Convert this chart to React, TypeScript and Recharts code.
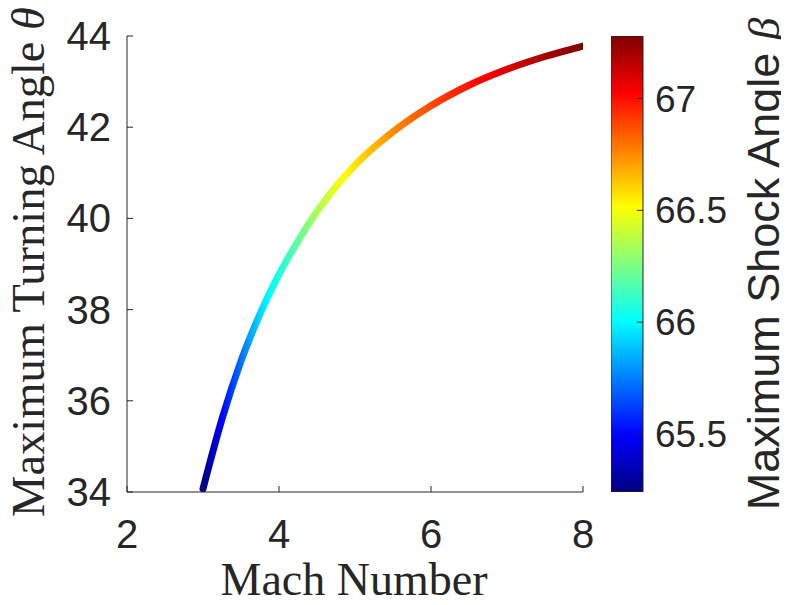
import React from 'react';
import { LineChart, Line, XAxis, YAxis, BarChart, Bar, Label } from 'recharts';

// Mach number samples along the curve
const machNumbers = [3.0, 3.25, 3.5, 3.75, 4.0, 4.25, 4.5, 4.75, 5.0, 5.5, 6.0, 6.5, 7.0, 7.5, 8.0];
// maximum turning (deflection) angle, degrees
const maxTurningAngle = [34.07, 35.6, 36.87, 37.9, 38.77, 39.5, 40.15, 40.7, 41.17, 41.9, 42.47, 42.92, 43.27, 43.55, 43.78];
// shock angle at maximum deflection, degrees (colour of the curve)
const maxShockAngle = [65.24, 65.5, 65.72, 65.93, 66.07, 66.2, 66.35, 66.47, 66.57, 66.75, 66.88, 66.99, 67.1, 67.2, 67.28];

const xTicks = [2, 4, 6, 8];
const yTicks = [34, 36, 38, 40, 42, 44];
const colorbarTicks = [65.5, 66, 66.5, 67];
const colorbarLimits = [65.24, 67.28];

const TEXT = '#262626';
const SANS = '"Liberation Sans", Arial, Helvetica, sans-serif';
const SERIF = '"Liberation Serif", "Times New Roman", serif';

const clamp = (v: number) => Math.max(0, Math.min(1, v));
const jet = (f: number) => {
  const r = clamp(1.5 - Math.abs(4 * f - 3));
  const g = clamp(1.5 - Math.abs(4 * f - 2));
  const b = clamp(1.5 - Math.abs(4 * f - 1));
  const h = (v: number) => Math.round(v * 255).toString(16).padStart(2, '0');
  return `#${h(r)}${h(g)}${h(b)}`;
};

const curveData = machNumbers.map((m, i) => ({ mach: m, theta: maxTurningAngle[i], beta: maxShockAngle[i] }));
const colorbarData = [{ name: 'beta', range: colorbarLimits }];

// gradient stops along the curve (horizontal, by Mach number)
const mMin = machNumbers[0];
const mMax = machNumbers[machNumbers.length - 1];
const betaAt = (m: number) => {
  for (let i = 0; i < machNumbers.length - 1; i++) {
    if (m <= machNumbers[i + 1]) {
      const t = (m - machNumbers[i]) / (machNumbers[i + 1] - machNumbers[i]);
      return maxShockAngle[i] + t * (maxShockAngle[i + 1] - maxShockAngle[i]);
    }
  }
  return maxShockAngle[maxShockAngle.length - 1];
};
const lineStops: { offset: number; color: string }[] = [];
for (let k = 0; k <= 100; k++) {
  const m = mMin + ((mMax - mMin) * k) / 100;
  const f = (betaAt(m) - colorbarLimits[0]) / (colorbarLimits[1] - colorbarLimits[0]);
  lineStops.push({ offset: k / 100, color: jet(f) });
}
const jetStops = [0, 0.125, 0.375, 0.625, 0.875, 1];

const YTick = (props: any) => {
  const { x, y, payload } = props;
  return (
    <g>
      <line x1={x} y1={y} x2={x + 6} y2={y} stroke={TEXT} strokeWidth={1} />
      <text x={x - 16} y={y + 14} textAnchor="end" fontSize={40} fontFamily={SANS} fill={TEXT}>
        {payload.value}
      </text>
    </g>
  );
};

const XTick = (props: any) => {
  const { x, y, payload } = props;
  return (
    <g>
      <line x1={x} y1={y} x2={x} y2={y - 6} stroke={TEXT} strokeWidth={1} />
      <text x={x} y={y + 56} textAnchor="middle" fontSize={40} fontFamily={SANS} fill={TEXT}>
        {payload.value}
      </text>
    </g>
  );
};

const CbTick = (props: any) => {
  const { x, y, payload } = props;
  return (
    <g>
      <line x1={x - 6} y1={y} x2={x} y2={y} stroke={TEXT} strokeWidth={1} />
      <text x={x + 12} y={y + 13} textAnchor="start" fontSize={37} fontFamily={SANS} fill={TEXT}>
        {payload.value}
      </text>
    </g>
  );
};

export default function App() {
  return (
    <div style={{ position: 'relative', left: -8, top: -8, width: 789, height: 605 }}>
      <div style={{ position: 'absolute', left: 0, top: 0 }}>
        <LineChart width={789} height={605} data={curveData} margin={{ top: 36, right: 206, bottom: 0, left: 0 }}>
          <defs>
            <linearGradient id="lineGrad" x1="0" y1="0" x2="1" y2="0">
              {lineStops.map((s, i) => (
                <stop key={i} offset={s.offset} stopColor={s.color} />
              ))}
            </linearGradient>
          </defs>
          <XAxis
            dataKey="mach"
            type="number"
            domain={[2, 8]}
            ticks={xTicks}
            interval={0}
            height={113}
            tickSize={0}
            tickMargin={0}
            tickLine={false}
            axisLine={{ stroke: TEXT, strokeWidth: 1 }}
            tick={<XTick />}
            allowDataOverflow
          >
            <Label
              content={() => (
                <text x={354} y={595} textAnchor="middle" fontSize={46} fontFamily={SERIF} fill={TEXT}>
                  Mach Number
                </text>
              )}
            />
          </XAxis>
          <YAxis
            type="number"
            domain={[34, 44]}
            ticks={yTicks}
            interval={0}
            width={127}
            tickSize={0}
            tickMargin={0}
            tickLine={false}
            axisLine={{ stroke: TEXT, strokeWidth: 1 }}
            tick={<YTick />}
            allowDataOverflow
          >
            <Label
              content={() => (
                <text
                  transform="translate(44,262) rotate(-90)"
                  x={0}
                  y={0}
                  textAnchor="middle"
                  fontSize={46.5}
                  fontFamily={SERIF}
                  fill={TEXT}
                >
                  Maximum Turning Angle <tspan fontStyle="italic">θ</tspan>
                </text>
              )}
            />
          </YAxis>
          <Line
            type="monotone"
            dataKey="theta"
            stroke="url(#lineGrad)"
            strokeWidth={7}
            strokeLinecap="round"
            dot={false}
            activeDot={false}
            isAnimationActive={false}
          />
        </LineChart>
      </div>
      <div style={{ position: 'absolute', left: 611, top: 0 }}>
        <BarChart
          width={178}
          height={605}
          data={colorbarData}
          margin={{ top: 36, right: 0, bottom: 113, left: 0 }}
          barCategoryGap={0}
        >
          <defs>
            <linearGradient id="jetGrad" x1="0" y1="1" x2="0" y2="0">
              {jetStops.map((f, i) => (
                <stop key={i} offset={f} stopColor={jet(f)} />
              ))}
            </linearGradient>
          </defs>
          <XAxis dataKey="name" hide />
          <YAxis
            orientation="right"
            type="number"
            domain={colorbarLimits}
            ticks={colorbarTicks}
            interval={0}
            width={146}
            tickSize={0}
            tickMargin={0}
            tickLine={false}
            axisLine={false}
            tick={<CbTick />}
            allowDataOverflow
          >
            <Label
              content={() => (
                <text
                  transform="translate(168,264) rotate(-90)"
                  x={0}
                  y={0}
                  textAnchor="middle"
                  fontSize={45}
                  fontFamily={SANS}
                  fill={TEXT}
                >
                  Maximum Shock Angle{' '}
                  <tspan fontFamily={SERIF} fontStyle="italic">β</tspan>
                </text>
              )}
            />
          </YAxis>
          <Bar dataKey="range" fill="url(#jetGrad)" stroke={TEXT} strokeWidth={1} isAnimationActive={false} />
        </BarChart>
      </div>
    </div>
  );
}
